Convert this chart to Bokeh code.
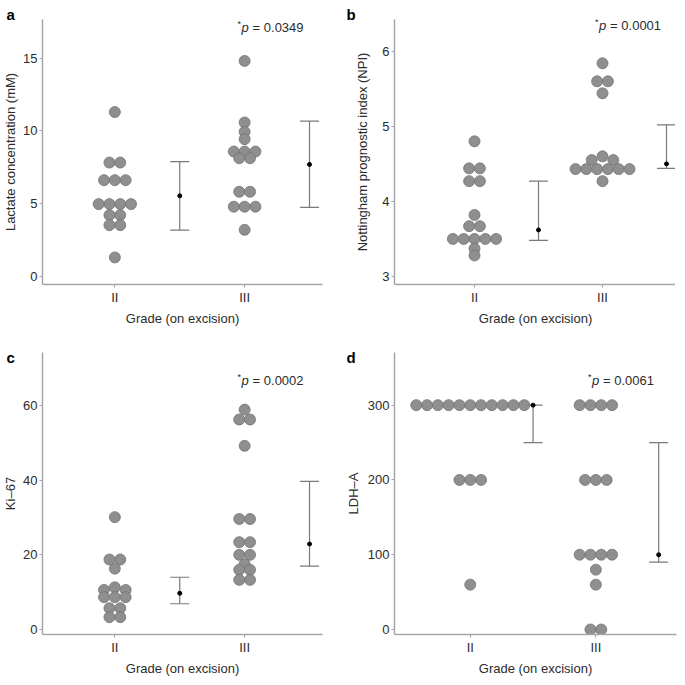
from bokeh.plotting import figure
from bokeh.layouts import gridplot
from bokeh.models import (Label, Whisker, TeeHead, ColumnDataSource, FixedTicker, Range1d)
from bokeh.embed import file_html
from bokeh.resources import INLINE

# ---------------- data ----------------
grade_labels = ["II", "III"]
grade_pos = [1, 2]
summary_pos = [1.5, 2.5]

lactate_II = [11.3, 7.82, 7.82, 6.61, 6.61, 6.61, 4.96, 4.96, 4.96, 4.96, 4.2, 4.2, 3.51, 3.51, 1.29]
lactate_III = [14.82, 10.58, 9.94, 9.43, 8.58, 8.58, 8.58, 8.12, 8.12, 5.81, 5.81, 4.78, 4.78, 4.78, 3.19]
lactate_median = [5.53, 7.69]
lactate_low = [3.17, 4.73]
lactate_high = [7.89, 10.67]

npi_II = [4.8, 4.44, 4.44, 4.27, 4.27, 3.82, 3.67, 3.67, 3.5, 3.5, 3.5, 3.5, 3.5, 3.37, 3.28]
npi_III = [5.84, 5.6, 5.6, 5.44, 4.6, 4.55, 4.55, 4.43, 4.43, 4.43, 4.43, 4.43, 4.43, 4.27]
npi_median = [3.62, 4.5]
npi_low = [3.48, 4.44]
npi_high = [4.27, 5.02]

ki67_II = [30.1, 18.75, 18.75, 16.3, 11.3, 10.6, 10.6, 8.66, 8.66, 8.66, 5.7, 5.7, 3.3, 3.3]
ki67_III = [58.9, 56.25, 56.25, 49.2, 29.6, 29.6, 23.4, 23.4, 20.0, 20.0, 17.5, 16.0, 16.0, 13.3, 13.3]
ki67_median = [9.7, 22.9]
ki67_low = [6.9, 17.0]
ki67_high = [14.0, 39.7]

ldh_II = [300, 300, 300, 300, 300, 300, 300, 300, 300, 300, 300, 200, 200, 200, 60]
ldh_III = [300, 300, 300, 300, 200, 200, 200, 100, 100, 100, 100, 80, 60, 0, 0]
ldh_median = [300, 100]
ldh_low = [250, 90]
ldh_high = [300, 250]

p_values = ["0.0349", "0.0001", "0.0002", "0.0061"]
panel_letters = ["a", "b", "c", "d"]
y_titles = ["Lactate concentration (mM)", "Nottingham prognostic index (NPI)", "Ki\u201367", "LDH\u2013A"]
y_ticks = [[0, 5, 10, 15], [3, 4, 5, 6], [0, 20, 40, 60], [0, 100, 200, 300]]
x_title = "Grade (on excision)"

# ---------------- style ----------------
FONT = "Liberation Sans"
TXT = "#2b2b2b"
AXIS = "#a6a6a6"
DOT_FILL = "#8f8f8f"
DOT_LINE = "#727272"
BAR = "#7a7a7a"
DOT_D = 11.0
DOT_STEP = 10.8


def swarm(vals, px_per_unit, step):
    order = sorted(range(len(vals)), key=lambda i: -vals[i])
    clusters = []
    for i in order:
        if clusters and (vals[clusters[-1][0]] - vals[i]) * px_per_unit < 5.0:
            clusters[-1].append(i)
        else:
            clusters.append([i])
    offs = [0.0] * len(vals)
    for cl in clusters:
        n = len(cl)
        slots = sorted([k - (n - 1) / 2 for k in range(n)], key=lambda s: (abs(s), s))
        for i, s in zip(cl, slots):
            offs[i] = s * step
    return offs


def make_panel(vals2, med, lo, hi, xr, yr, frame_w, frame_h, borders, ticks, ytitle,
               ylab_standoff, pval, p_yoff, letter, let_off):
    bl, br, bt, bb = borders
    p = figure(frame_width=frame_w, frame_height=frame_h, output_backend="svg",
               toolbar_location=None, x_range=Range1d(*xr), y_range=Range1d(*yr),
               min_border_left=bl, min_border_right=br, min_border_top=bt,
               min_border_bottom=bb)
    p.outline_line_color = None
    p.xgrid.grid_line_color = None
    p.ygrid.grid_line_color = None
    p.background_fill_color = "white"
    p.border_fill_color = "white"

    px_per_unit = frame_h / (yr[1] - yr[0])
    xstep = DOT_STEP * (xr[1] - xr[0]) / frame_w
    for gpos, vals in zip(grade_pos, vals2):
        offs = swarm(vals, px_per_unit, xstep)
        src = ColumnDataSource(dict(x=[gpos + o for o in offs], y=vals))
        p.scatter("x", "y", source=src, size=DOT_D, fill_color=DOT_FILL,
                  line_color=DOT_LINE, line_width=0.8)

    wsrc = ColumnDataSource(dict(base=summary_pos, lower=lo, upper=hi))
    w = Whisker(source=wsrc, base="base", lower="lower", upper="upper", dimension="height",
                line_color=BAR, line_width=1.2,
                upper_head=TeeHead(size=19, line_color=BAR, line_width=1.2),
                lower_head=TeeHead(size=19, line_color=BAR, line_width=1.2))
    p.add_layout(w)
    p.scatter(summary_pos, med, size=4, fill_color="black", line_color="black")

    p.xaxis.ticker = FixedTicker(ticks=grade_pos)
    p.xaxis.major_label_overrides = {g: l for g, l in zip(grade_pos, grade_labels)}
    p.yaxis.ticker = FixedTicker(ticks=ticks)
    for ax in p.axis:
        ax.axis_line_color = AXIS
        ax.axis_line_width = 1.5
        ax.major_tick_line_color = AXIS
        ax.major_tick_line_width = 1.2
        ax.major_tick_out = 3
        ax.major_tick_in = 0
        ax.minor_tick_line_color = None
        ax.major_label_text_font = FONT
        ax.major_label_text_font_size = "13px"
        ax.major_label_text_color = TXT
        ax.major_label_standoff = 2
        ax.axis_label_text_font = FONT
        ax.axis_label_text_font_size = "13px"
        ax.axis_label_text_font_style = "normal"
        ax.axis_label_text_color = TXT
    p.xaxis.axis_label = x_title
    p.xaxis.axis_label_standoff = 3
    p.yaxis.axis_label = ytitle
    p.yaxis.axis_label_standoff = ylab_standoff

    # p-value annotation
    px = 2.2
    common = dict(x=px, y=yr[1], text_font=FONT, text_color=TXT, text_baseline="alphabetic")
    p.add_layout(Label(x_offset=-33, y_offset=p_yoff + 4, text="*", text_font_size="9px", **common))
    p.add_layout(Label(x_offset=-29, y_offset=p_yoff, text="p", text_font_size="13px",
                       text_font_style="italic", **common))
    p.add_layout(Label(x_offset=-18, y_offset=p_yoff, text="= " + pval, text_font_size="13px", **common))

    # panel letter, kept in the panel above the frame so it is not clipped
    p.add_layout(Label(x=xr[0], y=yr[1], x_offset=let_off[0], y_offset=let_off[1], text=letter,
                       text_font=FONT, text_font_size="15px", text_font_style="bold",
                       text_color="black", text_baseline="alphabetic"), "above")
    return p


pa = make_panel([lactate_II, lactate_III], lactate_median, lactate_low, lactate_high,
                (0.4426, 2.6), (-0.575, 17.67), 280, 265, (36, 20, 19, 41), y_ticks[0], y_titles[0],
                2, p_values[0], -8, panel_letters[0], (-36, 5))
pb = make_panel([npi_II, npi_III], npi_median, npi_low, npi_high,
                (0.375, 2.578), (2.893, 6.423), 282, 265, (48, 3, 19, 41), y_ticks[1], y_titles[1],
                9, p_values[1], -6, panel_letters[1], (-48, 5))
pc = make_panel([ki67_II, ki67_III], ki67_median, ki67_low, ki67_high,
                (0.4426, 2.6), (-1.34, 74.2), 280, 282, (36, 20, 24, 38), y_ticks[2], y_titles[2],
                2, p_values[2], -28, panel_letters[2], (-36, -5))
pd_ = make_panel([ldh_II, ldh_III], ldh_median, ldh_low, ldh_high,
                 (0.397, 2.642), (-6.69, 370.4), 282, 282, (48, 3, 24, 38), y_ticks[3], y_titles[3],
                 4, p_values[3], -28, panel_letters[3], (-48, -5))

grid = gridplot([[pa, pb], [pc, pd_]], toolbar_location=None)

open("out.html", "w").write(file_html(grid, INLINE))
